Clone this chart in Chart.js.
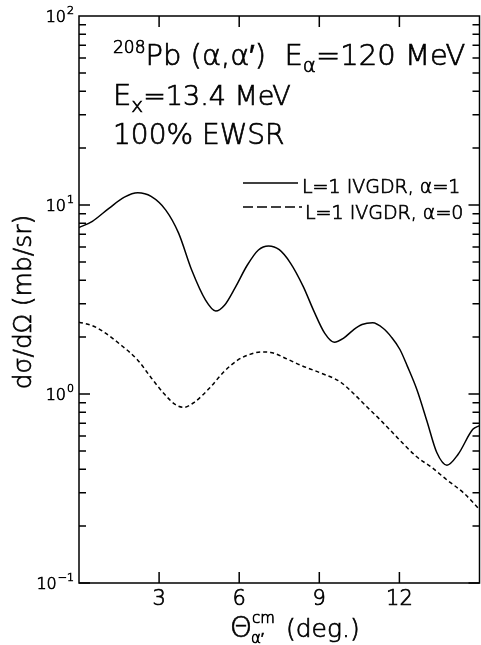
<!DOCTYPE html>
<html>
<head>
<meta charset="utf-8">
<script src="https://cdn.jsdelivr.net/npm/chart.js@4"></script>
<style>
  html, body { margin: 0; padding: 0; background: #fff; }
  #wrap { width: 481px; height: 645px; }
</style>
</head>
<body>
<div id="wrap"><canvas id="c"></canvas></div>
<script>
// 数据: 角度 (deg) 和截面 (mb/sr)
const solidAngles = [0, 0.5, 1.12, 1.7, 2.2, 2.7, 3.25, 3.73, 4.22, 4.74, 5.12, 5.45, 5.86, 6.3, 6.72, 7.1, 7.5, 7.92, 8.4, 8.78, 9.2, 9.56, 9.9, 10.27, 10.6, 11.0, 11.4, 11.7, 12.02, 12.3, 12.66, 13.03, 13.4, 13.78, 14.2, 14.75, 15.0];
const solidValues = [7.6, 8.2, 9.6, 11.0, 11.6, 11.1, 9.4, 7.1, 4.53, 3.14, 2.75, 2.95, 3.68, 4.8, 5.78, 6.07, 5.8, 4.93, 3.7, 2.78, 2.1, 1.88, 1.97, 2.18, 2.33, 2.38, 2.22, 2.0, 1.72, 1.4, 1.05, 0.72, 0.49, 0.42, 0.48, 0.65, 0.68];
const dashedAngles = [0, 0.5, 0.93, 1.5, 2.2, 2.7, 3.17, 3.6, 3.92, 4.3, 4.93, 5.4, 5.94, 6.4, 6.8, 7.17, 7.8, 8.3, 9.0, 9.78, 10.3, 10.79, 11.2, 11.65, 12.66, 13.2, 13.78, 14.4, 15.0];
const dashedValues = [2.4, 2.3, 2.13, 1.85, 1.51, 1.22, 1.01, 0.88, 0.85, 0.9, 1.09, 1.3, 1.51, 1.62, 1.67, 1.66, 1.53, 1.42, 1.30, 1.16, 1.0, 0.853, 0.75, 0.645, 0.464, 0.41, 0.351, 0.30, 0.245];

const seriesLabels = ['L=1 IVGDR, α=1', 'L=1 IVGDR, α=0'];
const xTicks = [3, 6, 9, 12];
const yDecades = [-1, 0, 1, 2];

const FONT = '"DejaVu Sans", sans-serif';
const W = '200';
const STROKE = 0.7;

function toPoints(xs, ys) {
  return xs.map((x, i) => ({ x: x, y: ys[i] }));
}

// 画字 (细字体加一点描边)
function txt(ctx, s, x, y) {
  ctx.fillText(s, x, y);
  ctx.strokeText(s, x, y);
}

// 画带上下标的文字
function drawRuns(ctx, x, y, runs) {
  for (const r of runs) {
    ctx.font = `${W} ${r.size}px ${FONT}`;
    txt(ctx, r.t, x, y + (r.dy || 0));
    x += ctx.measureText(r.t).width + (r.gap || 0);
  }
  return x;
}

const decorPlugin = {
  id: 'decor',
  afterDraw(chart) {
    const ctx = chart.ctx;
    const a = chart.chartArea;
    const xs = chart.scales.x;
    const ys = chart.scales.y;
    ctx.save();
    ctx.strokeStyle = '#000';
    ctx.fillStyle = '#000';
    ctx.lineWidth = 1.5;
    ctx.setLineDash([]);
    ctx.strokeRect(a.left, a.top, a.right - a.left, a.bottom - a.top);

    // x 刻度 (上下朝内)
    ctx.beginPath();
    for (const v of xTicks) {
      const px = xs.getPixelForValue(v);
      ctx.moveTo(px, a.bottom); ctx.lineTo(px, a.bottom - 11);
      ctx.moveTo(px, a.top); ctx.lineTo(px, a.top + 11);
    }
    // y 刻度 (左右朝内)
    for (let d = yDecades[0]; d < yDecades[yDecades.length - 1]; d++) {
      for (let m = 1; m < 10; m++) {
        const py = ys.getPixelForValue(m * Math.pow(10, d));
        const len = m === 1 ? 11 : 7;
        ctx.moveTo(a.left, py); ctx.lineTo(a.left + len, py);
        ctx.moveTo(a.right, py); ctx.lineTo(a.right - len, py);
      }
    }
    ctx.stroke();

    ctx.lineWidth = STROKE;
    ctx.textBaseline = 'alphabetic';
    ctx.textAlign = 'left';

    // y 刻度标签
    for (const d of yDecades) {
      const py = ys.getPixelForValue(Math.pow(10, d));
      const exp = d < 0 ? '\u2212' + (-d) : String(d);
      ctx.font = `${W} 11px ${FONT}`;
      const ew = ctx.measureText(exp).width;
      ctx.font = `${W} 16px ${FONT}`;
      const bw = ctx.measureText('10').width;
      const x0 = a.left - 5 - ew - bw - 1;
      drawRuns(ctx, x0, py + 6, [
        { t: '10', size: 16, gap: 1 },
        { t: exp, size: 11, dy: -8 }
      ]);
    }

    // 标注文字
    drawRuns(ctx, 113, 65, [
      { t: '208', size: 17, dy: -12 },
      { t: 'Pb (α,α′)  E', size: 29 },
      { t: 'α', size: 20, dy: 7 },
      { t: '=120 MeV', size: 29 }
    ]);
    drawRuns(ctx, 113, 105, [
      { t: 'E', size: 29 },
      { t: 'x', size: 20, dy: 7 },
      { t: '=13.4 MeV', size: 27 }
    ]);
    drawRuns(ctx, 113, 144, [{ t: '100% EWSR', size: 28 }]);

    // 图例
    ctx.lineWidth = 1.3;
    ctx.beginPath();
    ctx.moveTo(243, 183); ctx.lineTo(298, 183);
    ctx.stroke();
    ctx.setLineDash([10, 4]);
    ctx.beginPath();
    ctx.moveTo(243, 207); ctx.lineTo(302, 207);
    ctx.stroke();
    ctx.setLineDash([]);
    ctx.lineWidth = STROKE;
    drawRuns(ctx, 302, 193, [{ t: seriesLabels[0], size: 19 }]);
    drawRuns(ctx, 305, 219, [{ t: seriesLabels[1], size: 19 }]);

    // x 轴标题
    drawRuns(ctx, 230, 637, [{ t: 'Θ', size: 28 }]);
    drawRuns(ctx, 252, 623, [{ t: 'cm', size: 15 }]);
    drawRuns(ctx, 251, 643, [{ t: 'α′', size: 15 }]);
    drawRuns(ctx, 286, 637, [{ t: '(deg.)', size: 25 }]);

    // y 轴标题
    ctx.translate(31, 302);
    ctx.rotate(-Math.PI / 2);
    ctx.textAlign = 'center';
    ctx.font = `${W} 25px ${FONT}`;
    txt(ctx, 'dσ/dΩ (mb/sr)', 0, 0);
    ctx.restore();
  }
};

const chart = new Chart(document.getElementById('c'), {
  type: 'scatter',
  data: {
    datasets: [{
      label: seriesLabels[0],
      data: toPoints(solidAngles, solidValues),
      showLine: true,
      borderColor: '#000',
      borderWidth: 1.5,
      pointRadius: 0,
      cubicInterpolationMode: 'monotone'
    }, {
      label: seriesLabels[1],
      data: toPoints(dashedAngles, dashedValues),
      showLine: true,
      borderColor: '#000',
      borderWidth: 1.5,
      borderDash: [4, 3],
      pointRadius: 0,
      cubicInterpolationMode: 'monotone'
    }]
  },
  options: {
    responsive: true,
    maintainAspectRatio: false,
    animation: false,
    layout: { padding: { left: 0, top: 16, right: 1.5, bottom: 0 } },
    plugins: { legend: { display: false }, tooltip: { enabled: false } },
    scales: {
      x: {
        type: 'linear', min: 0, max: 15,
        afterFit(s) { s.height = 62; },
        afterBuildTicks(s) { s.ticks = xTicks.map(v => ({ value: v })); },
        grid: { display: false, drawTicks: false },
        border: { display: false },
        ticks: {
          color: '#000', padding: 4, textStrokeColor: '#000', textStrokeWidth: STROKE,
          font: { family: FONT, size: 21, weight: W }
        }
      },
      y: {
        type: 'logarithmic', min: 0.1, max: 100,
        afterFit(s) { s.width = 79; },
        grid: { display: false, drawTicks: false },
        border: { display: false },
        ticks: { display: false }
      }
    }
  },
  plugins: [decorPlugin]
});
</script>
</body>
</html>
